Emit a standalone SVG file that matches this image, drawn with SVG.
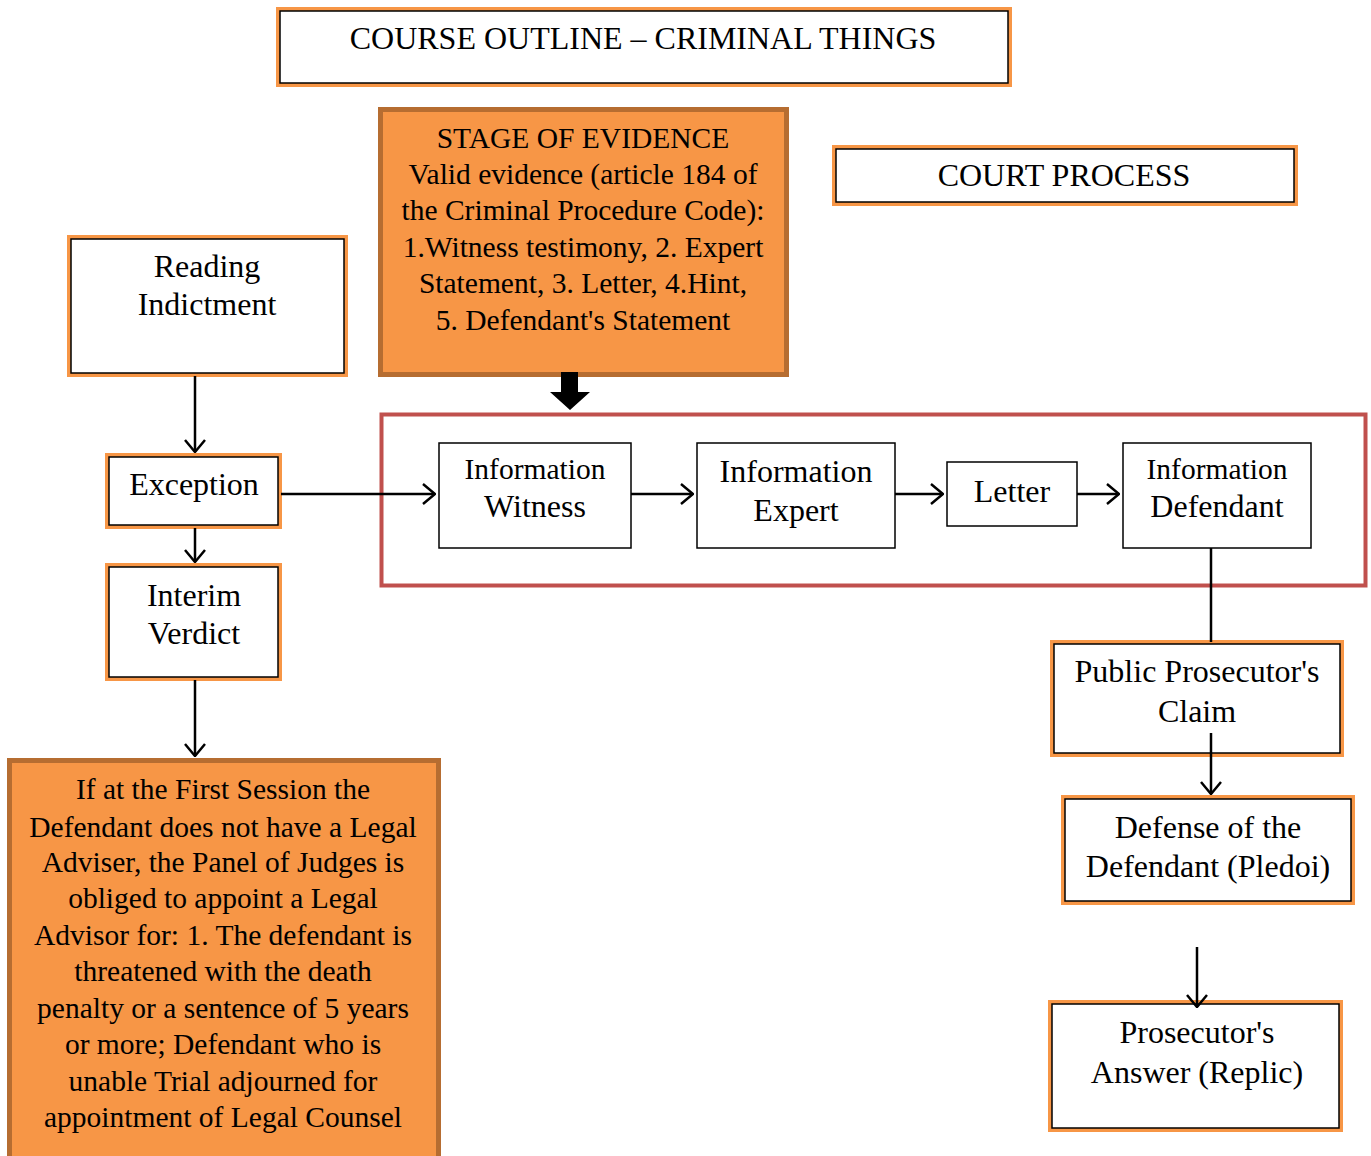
<svg xmlns="http://www.w3.org/2000/svg" width="1371" height="1156" viewBox="0 0 1371 1156">
<style>
text{font-family:"Liberation Serif","Times New Roman",serif;fill:#000;text-anchor:middle}
.o{fill:#fff;stroke:#f79646;stroke-width:4}
.i{fill:none;stroke:#000;stroke-width:1.5}
.p{fill:#fff;stroke:#000;stroke-width:1.5}
.or{fill:#f79646;stroke:#b66d31;stroke-width:5}
.c{fill:none;stroke:#000;stroke-width:2.5}
.L{font-size:32px}
.M{font-size:29.5px}
</style>
<defs>
<marker id="a" viewBox="0 0 14 22" refX="13" refY="11" markerWidth="14" markerHeight="22" markerUnits="userSpaceOnUse" orient="auto">
<polyline points="1,1 13,11 1,21" fill="none" stroke="#000" stroke-width="2.5"/>
</marker>
</defs>
<rect width="1371" height="1156" fill="#fff"/>
<g id="title">
<rect class="o" x="278" y="9" width="732" height="76"/>
<rect class="i" x="280" y="11" width="728" height="72"/>
<text class="L" x="643" y="49">COURSE OUTLINE – CRIMINAL THINGS</text>
</g>
<g id="stage-evidence">
<rect class="or" x="380.5" y="109.5" width="406" height="265"/>
<text class="M" x="583" y="148">STAGE OF EVIDENCE</text>
<text class="M" x="583" y="184">Valid evidence (article 184 of</text>
<text class="M" x="583" y="220">the Criminal Procedure Code):</text>
<text class="M" x="583" y="257">1.Witness testimony, 2. Expert</text>
<text class="M" x="583" y="293">Statement, 3. Letter, 4.Hint,</text>
<text class="M" x="583" y="330">5. Defendant's Statement</text>
</g>
<g id="court-process">
<rect class="o" x="834" y="147" width="462" height="57"/>
<rect class="i" x="836" y="149" width="458" height="53"/>
<text class="L" x="1064" y="186">COURT PROCESS</text>
</g>
<g id="reading-indictment">
<rect class="o" x="69" y="237" width="277" height="138"/>
<rect class="i" x="71" y="239" width="273" height="134"/>
<text class="L" x="207" y="277">Reading</text>
<text class="L" x="207" y="315">Indictment</text>
</g>
<g id="exception">
<rect class="o" x="107" y="455" width="173" height="72"/>
<rect class="i" x="109" y="457" width="169" height="68"/>
<text class="L" x="194" y="495">Exception</text>
</g>
<g id="interim-verdict">
<rect class="o" x="107" y="565" width="173" height="114"/>
<rect class="i" x="109" y="567" width="169" height="110"/>
<text class="L" x="194" y="606">Interim</text>
<text class="L" x="194" y="644">Verdict</text>
</g>
<g id="legal-adviser">
<rect class="or" x="9.5" y="760.5" width="429" height="400"/>
<text class="M" x="223" y="799">If at the First Session the</text>
<text class="M" x="223" y="837">Defendant does not have a Legal</text>
<text class="M" x="223" y="872">Adviser, the Panel of Judges is</text>
<text class="M" x="223" y="908">obliged to appoint a Legal</text>
<text class="M" x="223" y="945">Advisor for: 1. The defendant is</text>
<text class="M" x="223" y="981">threatened with the death</text>
<text class="M" x="223" y="1018">penalty or a sentence of 5 years</text>
<text class="M" x="223" y="1054">or more; Defendant who is</text>
<text class="M" x="223" y="1091">unable Trial adjourned for</text>
<text class="M" x="223" y="1127">appointment of Legal Counsel</text>
</g>
<g id="evidence-group">
<rect x="381.5" y="414.5" width="984" height="171" fill="none" stroke="#c0504d" stroke-width="4"/>
</g>
<g id="info-witness">
<rect class="p" x="439" y="443" width="192" height="105"/>
<text class="M" x="535" y="479">Information</text>
<text class="L" x="535" y="517">Witness</text>
</g>
<g id="info-expert">
<rect class="p" x="697" y="443" width="198" height="105"/>
<text class="L" x="796" y="482">Information</text>
<text class="L" x="796" y="521">Expert</text>
</g>
<g id="letter">
<rect class="p" x="947" y="462" width="130" height="64"/>
<text class="L" x="1012" y="502">Letter</text>
</g>
<g id="info-defendant">
<rect class="p" x="1123" y="443" width="188" height="105"/>
<text class="M" x="1217" y="479">Information</text>
<text class="L" x="1217" y="517">Defendant</text>
</g>
<g id="prosecutor-claim">
<rect class="o" x="1052" y="642" width="290" height="113"/>
<rect class="i" x="1054" y="644" width="286" height="109"/>
<text class="L" x="1197" y="682">Public Prosecutor's</text>
<text class="L" x="1197" y="722">Claim</text>
</g>
<g id="defense">
<rect class="o" x="1063" y="797" width="290" height="106"/>
<rect class="i" x="1065" y="799" width="286" height="102"/>
<text class="L" x="1208" y="838">Defense of the</text>
<text class="L" x="1208" y="877">Defendant (Pledoi)</text>
</g>
<g id="prosecutor-answer">
<rect class="o" x="1050" y="1002" width="291" height="128"/>
<rect class="i" x="1052" y="1004" width="287" height="124"/>
<text class="L" x="1197" y="1043">Prosecutor's</text>
<text class="L" x="1197" y="1083">Answer (Replic)</text>
</g>
<g id="connectors">
<line class="c" x1="195" y1="376" x2="195" y2="452" marker-end="url(#a)"/>
<line class="c" x1="195" y1="528" x2="195" y2="562" marker-end="url(#a)"/>
<line class="c" x1="195" y1="680" x2="195" y2="756" marker-end="url(#a)"/>
<line class="c" x1="281" y1="494" x2="435" y2="494" marker-end="url(#a)"/>
<line class="c" x1="631" y1="494" x2="693" y2="494" marker-end="url(#a)"/>
<line class="c" x1="895" y1="494" x2="943" y2="494" marker-end="url(#a)"/>
<line class="c" x1="1077" y1="494" x2="1119" y2="494" marker-end="url(#a)"/>
<line class="c" x1="1211" y1="548" x2="1211" y2="642"/>
<line class="c" x1="1211" y1="733" x2="1211" y2="794" marker-end="url(#a)"/>
<line class="c" x1="1197" y1="947" x2="1197" y2="1007" marker-end="url(#a)"/>
<path d="M561,372 H578 V392 H590 L570,410 L550,392 H561 Z" fill="#000"/>
</g>
</svg>
